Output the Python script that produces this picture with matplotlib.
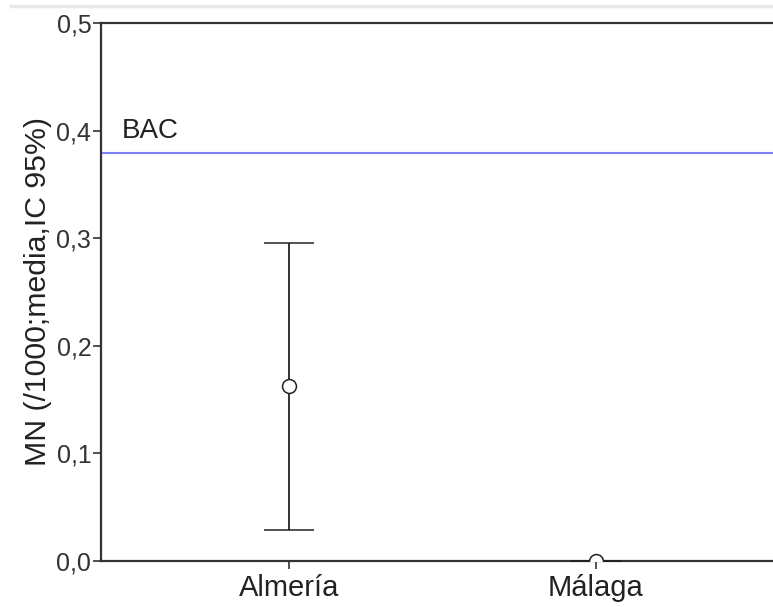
import matplotlib
matplotlib.use("Agg")
import matplotlib.pyplot as plt
from matplotlib.lines import Line2D

categories = ["Almería", "Málaga"]
means = [0.163, 0.0]
ci_low = [0.029, 0.0]
ci_high = [0.296, 0.0]
ref_value = 0.379
ref_label = "BAC"
yticks = [0.0, 0.1, 0.2, 0.3, 0.4, 0.5]
ytick_labels = ["0,0", "0,1", "0,2", "0,3", "0,4", "0,5"]

plt.rcParams['font.family'] = ['Liberation Sans', 'DejaVu Sans']

W, H = 773, 607
fig = plt.figure(figsize=(W/100, H/100), dpi=100)
left, right_px = 101, 773 + 60
top, bottom = 23, 561
ax = fig.add_axes([left/W, 1 - bottom/H, (right_px-left)/W, (bottom-top)/H])

x = list(range(len(categories)))
err_lo = [m - l for m, l in zip(means, ci_low)]
err_hi = [h - m for m, h in zip(means, ci_high)]
ax.errorbar(x, means, yerr=[err_lo, err_hi], fmt='o', mfc='white', mec='#222222',
            ms=10, mew=1.1, ecolor='#222222', elinewidth=1.3, capsize=18, capthick=1.3,
            zorder=3)
ax.axhline(ref_value, color='#8080ff', lw=1.5, zorder=2)
ax.text(-0.545, 0.393, ref_label, fontsize=20, color='#222222', va='baseline', ha='left')

xmin = -188/307
ax.set_xlim(xmin, xmin + (right_px-left)/307)
ax.set_ylim(0, 0.5)
ax.set_yticks(yticks)
ax.set_yticklabels(ytick_labels, fontsize=18, color='#333333')
ax.set_xticks(x)
ax.set_xticklabels(categories, fontsize=21, color='#222222')
ax.set_ylabel("MN (/1000;media,IC 95%)", fontsize=21.8, color='#222222', labelpad=3)

for s in ['left', 'bottom', 'top']:
    ax.spines[s].set_color('#333333')
    ax.spines[s].set_linewidth(1.6)
ax.spines['right'].set_visible(False)
ax.tick_params(axis='both', direction='out', length=6, width=1.2, color='#333333')
ax.tick_params(axis='y', pad=1)
ax.tick_params(axis='x', pad=3)

fig.add_artist(Line2D([11/W, 1.0], [1 - 6/H, 1 - 6/H], color='#e8e8e8', lw=2.5))

fig.savefig("out.png", dpi=100)
